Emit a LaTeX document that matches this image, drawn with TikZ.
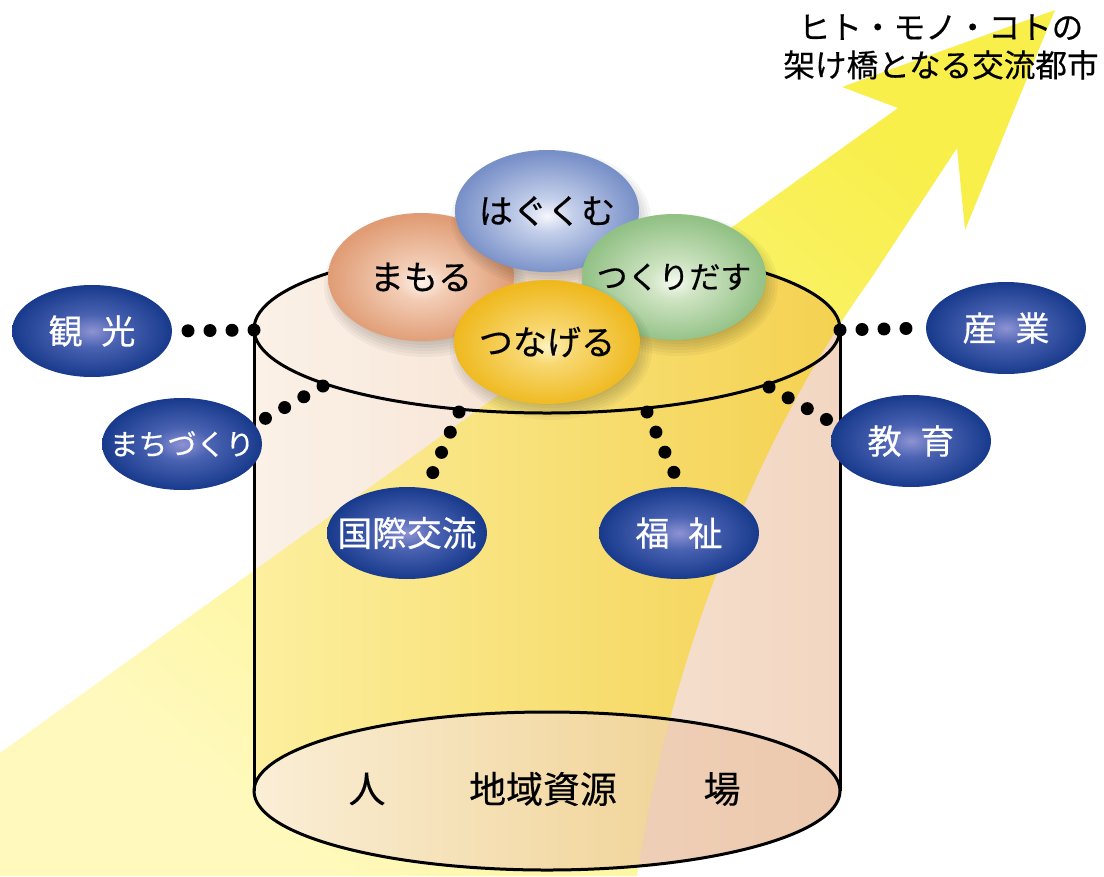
\documentclass[tikz,border=0pt]{standalone}
\usepackage{fontspec}
\setmainfont{Noto Sans CJK JP}[FakeBold=0.4]
\usetikzlibrary{shapes.geometric}
\definecolor{arrowLo}{HTML}{FFF9BE}
\definecolor{arrowHi}{HTML}{F8EF4A}
\definecolor{peachL}{HTML}{FBF1E7}
\definecolor{peachR}{HTML}{F2D6C1}
\definecolor{goldL}{HTML}{FCEF9E}
\definecolor{goldR}{HTML}{F4D150}
\definecolor{baseL}{HTML}{FAEED6}
\definecolor{baseR}{HTML}{EDCA80}
\definecolor{basePL}{HTML}{F3DAC6}
\definecolor{basePR}{HTML}{ECC9AE}
\definecolor{navyC}{HTML}{8D93D3}
\definecolor{navyM}{HTML}{4A62B2}
\definecolor{navyE}{HTML}{183A8C}
\definecolor{blueC}{HTML}{F6F7FC}
\definecolor{blueM}{HTML}{C4CFEA}
\definecolor{blueE}{HTML}{7890C8}
\definecolor{orangeC}{HTML}{FDF3EC}
\definecolor{orangeM}{HTML}{F3CDB6}
\definecolor{orangeE}{HTML}{E09C74}
\definecolor{greenC}{HTML}{F5FAF0}
\definecolor{greenM}{HTML}{CFE4C3}
\definecolor{greenE}{HTML}{92C185}
\definecolor{yellowC}{HTML}{FCF3C0}
\definecolor{yellowM}{HTML}{F8D872}
\definecolor{yellowE}{HTML}{EFB91E}
\pgfdeclareradialshading{navyshade}{\pgfpoint{0bp}{0bp}}{color(0bp)=(navyC); color(9bp)=(navyM); color(25bp)=(navyE); color(50bp)=(navyE)}
\pgfdeclareradialshading{blueshade}{\pgfpoint{0bp}{-2bp}}{color(0bp)=(blueC); color(7bp)=(blueM); color(25bp)=(blueE); color(50bp)=(blueE)}
\pgfdeclareradialshading{orangeshade}{\pgfpoint{0bp}{-2bp}}{color(0bp)=(orangeC); color(7bp)=(orangeM); color(25bp)=(orangeE); color(50bp)=(orangeE)}
\pgfdeclareradialshading{greenshade}{\pgfpoint{0bp}{-2bp}}{color(0bp)=(greenC); color(7bp)=(greenM); color(25bp)=(greenE); color(50bp)=(greenE)}
\pgfdeclareradialshading{yellowshade}{\pgfpoint{0bp}{-2bp}}{color(0bp)=(yellowC); color(7bp)=(yellowM); color(25bp)=(yellowE); color(50bp)=(yellowE)}
\newcommand\ballfont{\fontsize{19.4}{22}\selectfont}
\newcommand\navyfont{\fontsize{19.4}{22}\selectfont}
\newcommand\zw[1]{\makebox[0pt]{#1}}
\newcommand\ballshadow[4]{%
  \foreach \d in {0,...,5}{%
    \fill[black, opacity=0.035] ({#1+4},{#2+8}) ellipse [x radius={#3+8-3*\d}, y radius={#4+8-3*\d}];}}
\tikzset{
  arrowpath/.style={insert path={(1055,10) -- (965,230) -- (957,148) -- (870,280)
     .. controls (790,390) and (680,600) .. (637,876) -- (0,876) -- (0,753)
     -- (898,108) -- (842,87) -- cycle}},
  cylsil/.style={insert path={(254,329) -- (254,791)
     arc[start angle=180,end angle=0,x radius=293,y radius=79]
     -- (840,329) arc[start angle=0,end angle=-180,x radius=293,y radius=84] -- cycle}},
  outline/.style={draw=black, line width=0.06cm},
  ball/.style={ellipse, inner sep=0pt, shade, font=\ballfont},
  navy/.style={ellipse, inner sep=0pt, shade, shading=navyshade, text=white, font=\navyfont,
     minimum width=3.2cm, minimum height=1.84cm},
  dotline/.style={draw=black, line width=0.26cm, line cap=round, dash pattern=on 0pt off 0.44cm},
}
\begin{document}
\begin{tikzpicture}[x=0.02cm,y=-0.02cm]
\fill[white] (0,0) rectangle (1104,876);
\useasboundingbox (0,0) rectangle (1104,876);
% yellow arrow
\path[arrowpath, bottom color=arrowLo, top color=arrowHi, shading angle=-40];
% cylinder body
\path[cylsil, left color=peachL, right color=peachR];
\begin{scope}
  \path[clip, arrowpath];
  \path[cylsil, left color=goldL, right color=goldR];
\end{scope}
% base ellipse
\path[left color=basePL, right color=basePR] (547,791) ellipse [x radius=293, y radius=79];
\begin{scope}
  \path[clip, arrowpath];
  \path[left color=baseL, right color=baseR] (547,791) ellipse [x radius=293, y radius=79];
\end{scope}
% outlines
\draw[outline] (254,329) -- (254,791);
\draw[outline] (840,329) -- (840,791);
\draw[outline] (547,329) ellipse [x radius=293, y radius=84];
\draw[outline] (547,791) ellipse [x radius=293, y radius=79];
% balls
\ballshadow{421}{277}{93}{64}
\node[ball, shading=orangeshade, minimum width=3.72cm, minimum height=2.56cm] (mamoru) at (421,277) {\zw{まもる}};
\ballshadow{547}{211}{92}{61}
\node[ball, shading=blueshade, minimum width=3.68cm, minimum height=2.44cm] (hagukumu) at (547,211) {\zw{はぐくむ}};
\ballshadow{674}{277}{92}{63}
\node[ball, shading=greenshade, minimum width=3.68cm, minimum height=2.52cm, font=\fontsize{17.6}{20}\selectfont] (tsukuri) at (674,277) {\zw{つくりだす}};
\ballshadow{547}{342}{93}{62}
\node[ball, shading=yellowshade, minimum width=3.72cm, minimum height=2.48cm] (tsunageru) at (547,342) {\zw{つなげる}};
% blue labels
\node[navy] (kanko) at (92,331) {\zw{観\hspace{0.55em}光}};
\node[navy, font=\fontsize{16.5}{20}\selectfont] (machi) at (182,444) {\zw{まちづくり}};
\node[navy, font=\fontsize{19.8}{22}\selectfont] (kokusai) at (407,533) {\zw{国際交流}};
\node[navy] (fukushi) at (679,533) {\zw{福\hspace{0.55em}祉}};
\node[navy] (kyoiku) at (911,441) {\zw{教\hspace{0.55em}育}};
\node[navy] (sangyo) at (1006,328) {\zw{産\hspace{0.55em}業}};
% connector points on the top ellipse
\coordinate (pK) at (254,330);
\coordinate (pS) at (840,330);
\coordinate (pM) at (323,386);
\coordinate (pI) at (459,412);
\coordinate (pF) at (647,412);
\coordinate (pE) at (769,387);
\coordinate (eM) at (250,427);
\coordinate (eI) at (427,486);
\coordinate (eF) at (680,486);
\coordinate (eE) at (838,426);
\draw[dotline] (pK) -- (kanko.east);
\draw[dotline] (pS) -- (sangyo.west);
\draw[dotline] (pM) -- (eM);
\draw[dotline] (pI) -- (eI);
\draw[dotline] (pF) -- (eF);
\draw[dotline] (pE) -- (eE);
% texts
\node[align=center, font=\fontsize{18}{21.6}\selectfont] (goal) at (941,47) {ヒト・モノ・コトの\\架け橋となる交流都市};
\node[font=\fontsize{21}{24}\selectfont] (hito) at (367,789) {人};
\node[font=\fontsize{21}{24}\selectfont] (chiiki) at (543,789) {地域資源};
\node[font=\fontsize{21}{24}\selectfont] (ba) at (722,789) {場};
\end{tikzpicture}
\end{document}
